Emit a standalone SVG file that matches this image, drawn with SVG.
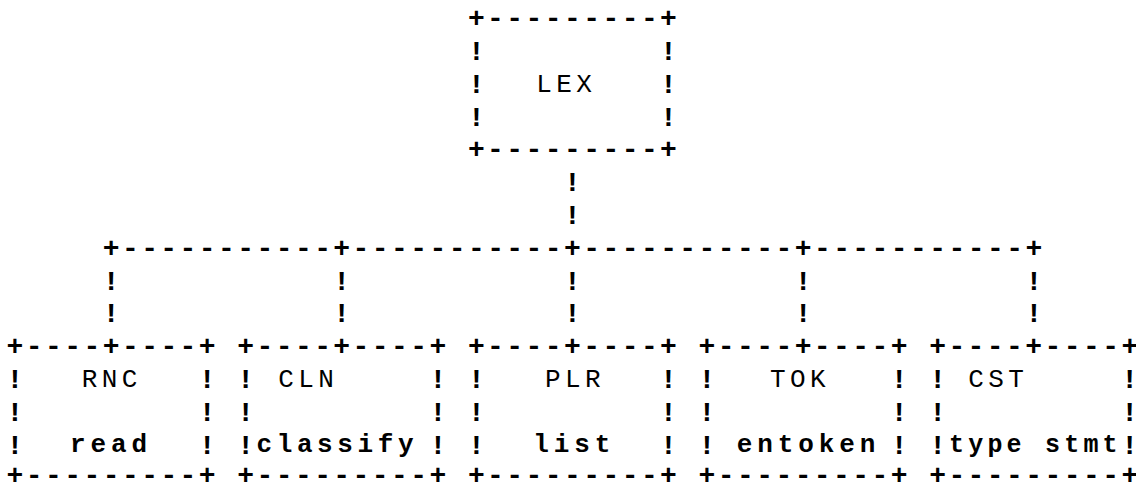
<svg xmlns="http://www.w3.org/2000/svg" width="1136" height="484" viewBox="0 0 1136 484">
<style>
text{white-space:pre}
.b{font-family:"Liberation Mono","DejaVu Sans Mono",monospace;font-size:28px;font-weight:bold;letter-spacing:2.42px;fill:#000}
.u{font-family:"Liberation Mono","DejaVu Sans Mono",monospace;font-size:26px;letter-spacing:4.4px;fill:#000}
.l{font-family:"Liberation Mono","DejaVu Sans Mono",monospace;font-size:26px;font-weight:bold;letter-spacing:4.9px;fill:#000}
</style>
<rect width="1136" height="484" fill="#fff"/>
<g id="node-lex">
<text class="b" x="467.88" y="27">+---------+</text>
<text class="b" x="467.88" y="60">!</text><text class="b" x="660.08" y="60">!</text>
<text class="b" x="467.88" y="92.8">!</text><text class="b" x="660.08" y="92.8">!</text>
<text class="b" x="467.88" y="125.6">!</text><text class="b" x="660.08" y="125.6">!</text>
<text class="b" x="467.88" y="158.2">+---------+</text>
<text class="u" x="536.2" y="92.2">LEX</text>
</g>
<g id="connectors">
<text class="b" x="563.98" y="191.2">!</text>
<text class="b" x="563.98" y="224">!</text>
<text class="b" x="102.7" y="256.6">+-----------+-----------+-----------+-----------+</text>
<text class="b" x="102.7" y="289.6" xml:space="preserve">!           !           !           !           !</text>
<text class="b" x="102.7" y="322.4" xml:space="preserve">!           !           !           !           !</text>
</g>
<g id="node-rnc">
<text class="b" x="6.6" y="355">+----+----+</text>
<text class="b" x="6.6" y="388">!</text><text class="b" x="198.8" y="388">!</text>
<text class="b" x="6.6" y="420.8">!</text><text class="b" x="198.8" y="420.8">!</text>
<text class="b" x="6.6" y="453.6">!</text><text class="b" x="198.8" y="453.6">!</text>
<text class="b" x="6.6" y="484">+---------+</text>
<text class="u" x="81.7" y="387.4">RNC</text>
<text class="l" x="69.95" y="452">read</text>
</g>
<g id="node-cln">
<text class="b" x="237.24" y="355">+----+----+</text>
<text class="b" x="237.24" y="388">!</text><text class="b" x="429.44" y="388">!</text>
<text class="b" x="237.24" y="420.8">!</text><text class="b" x="429.44" y="420.8">!</text>
<text class="b" x="237.24" y="453.6">!</text><text class="b" x="429.44" y="453.6">!</text>
<text class="b" x="237.24" y="484">+---------+</text>
<text class="u" x="278.2" y="387.4">CLN</text>
<text class="l" x="256.5" y="452" style="letter-spacing:4.6px">classify</text>
</g>
<g id="node-plr">
<text class="b" x="467.88" y="355">+----+----+</text>
<text class="b" x="467.88" y="388">!</text><text class="b" x="660.08" y="388">!</text>
<text class="b" x="467.88" y="420.8">!</text><text class="b" x="660.08" y="420.8">!</text>
<text class="b" x="467.88" y="453.6">!</text><text class="b" x="660.08" y="453.6">!</text>
<text class="b" x="467.88" y="484">+---------+</text>
<text class="u" x="544.9" y="387.4">PLR</text>
<text class="l" x="533.15" y="452">list</text>
</g>
<g id="node-tok">
<text class="b" x="698.52" y="355">+----+----+</text>
<text class="b" x="698.52" y="388">!</text><text class="b" x="890.72" y="388">!</text>
<text class="b" x="698.52" y="420.8">!</text><text class="b" x="890.72" y="420.8">!</text>
<text class="b" x="698.52" y="453.6">!</text><text class="b" x="890.72" y="453.6">!</text>
<text class="b" x="698.52" y="484">+---------+</text>
<text class="u" x="769.9" y="387.4">TOK</text>
<text class="l" x="736.7" y="452">entoken</text>
</g>
<g id="node-cst">
<text class="b" x="929.16" y="355">+----+----+</text>
<text class="b" x="929.16" y="388">!</text><text class="b" x="1121.36" y="388">!</text>
<text class="b" x="929.16" y="420.8">!</text><text class="b" x="1121.36" y="420.8">!</text>
<text class="b" x="929.16" y="453.6">!</text><text class="b" x="1121.36" y="453.6">!</text>
<text class="b" x="929.16" y="484">+---------+</text>
<text class="u" x="968.2" y="387.4">CST</text>
<text class="l" x="949" y="452" style="font-size:25px;letter-spacing:4.2px">type stmt</text>
</g>
</svg>
